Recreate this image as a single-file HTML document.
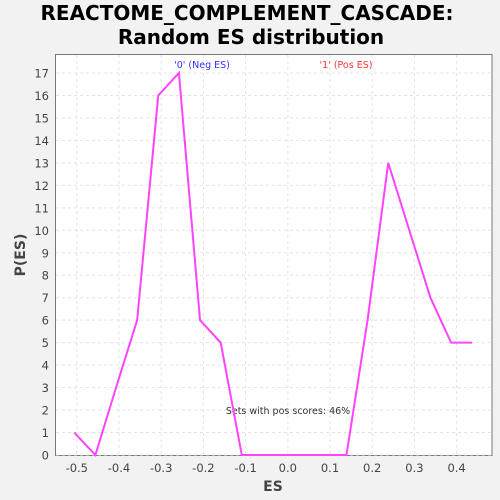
<!DOCTYPE html>
<html><head><meta charset="utf-8"><style>
html,body{margin:0;padding:0;overflow:hidden;background:#f2f2f2;font-family:"DejaVu Sans","Liberation Sans",sans-serif}
svg{display:block}
</style></head><body>
<svg id="c" width="500" height="500" xmlns="http://www.w3.org/2000/svg">
<rect width="500" height="500" fill="#f2f2f2"/>
<text x="247" y="20" text-anchor="middle" font-size="20" font-weight="bold" fill="#000">REACTOME_COMPLEMENT_CASCADE:</text>
<text x="251" y="44" text-anchor="middle" font-size="20" font-weight="bold" fill="#000">Random ES distribution</text>
<rect x="55.5" y="54.5" width="436.5" height="401" fill="#fff" stroke="#777"/>
<g id="grid"></g><g id="ticks"></g>
<text x="273" y="491" text-anchor="middle" font-size="14" font-weight="bold" fill="#444">ES</text>
<text x="25" y="255" text-anchor="middle" font-size="14" font-weight="bold" fill="#444" transform="rotate(-90 25 255)">P(ES)</text>
<text x="202" y="68" text-anchor="middle" font-size="9.5" fill="#3333ff">'0' (Neg ES)</text>
<text x="346" y="68" text-anchor="middle" font-size="9.5" fill="#ff3333">'1' (Pos ES)</text>
<text x="288" y="414" text-anchor="middle" font-size="9.5" fill="#333">Sets with pos scores: 46%</text>
<polyline id="line" fill="none" stroke="#ff44ff" stroke-width="2"/>
</svg>
<script>
const esValues=[-0.506,-0.456,-0.407,-0.357,-0.307,-0.258,-0.208,-0.159,-0.109,-0.059,-0.010,0.040,0.090,0.139,0.189,0.238,0.288,0.338,0.387,0.437];
const probValues=[1,0,3,6,16,17,6,5,0,0,0,0,0,0,6,13,10,7,5,5];
const xTicks=[-0.5,-0.4,-0.3,-0.2,-0.1,0.0,0.1,0.2,0.3,0.4];
const yTicks=[0,1,2,3,4,5,6,7,8,9,10,11,12,13,14,15,16,17];
const X=v=>287.8+v*422;
const Y=v=>455-v*22.47;
const ns="http://www.w3.org/2000/svg";
const grid=document.getElementById('grid'),tk=document.getElementById('ticks');
xTicks.forEach(t=>{
 const l=document.createElementNS(ns,'line');
 
 
 l.setAttribute('x1',X(t));l.setAttribute('x2',X(t));l.setAttribute('y1',55);l.setAttribute('y2',455);
 l.setAttribute('stroke','#e3e3e3');l.setAttribute('stroke-dasharray','3,3');grid.appendChild(l);
 const s=document.createElementNS(ns,'text');
 
 
 s.setAttribute('x',X(t));s.setAttribute('y',472);s.setAttribute('text-anchor','middle');s.setAttribute('font-size','11.5');s.setAttribute('fill','#444');
 s.textContent=t.toFixed(1);tk.appendChild(s);
});
yTicks.forEach(t=>{
 const l=document.createElementNS(ns,'line');
 
 
 l.setAttribute('x1',56);l.setAttribute('x2',491);l.setAttribute('y1',Y(t));l.setAttribute('y2',Y(t));
 l.setAttribute('stroke','#e3e3e3');l.setAttribute('stroke-dasharray','3,3');grid.appendChild(l);
 const s=document.createElementNS(ns,'text');
 
 
 s.setAttribute('x',49);s.setAttribute('y',Y(t)+4.5);s.setAttribute('text-anchor','end');s.setAttribute('font-size','11.5');s.setAttribute('fill','#444');
 s.textContent=t;tk.appendChild(s);
});
document.getElementById('line').setAttribute('points',esValues.map((v,i)=>X(v)+','+Y(probValues[i])).join(' '));
</script>
</body></html>
